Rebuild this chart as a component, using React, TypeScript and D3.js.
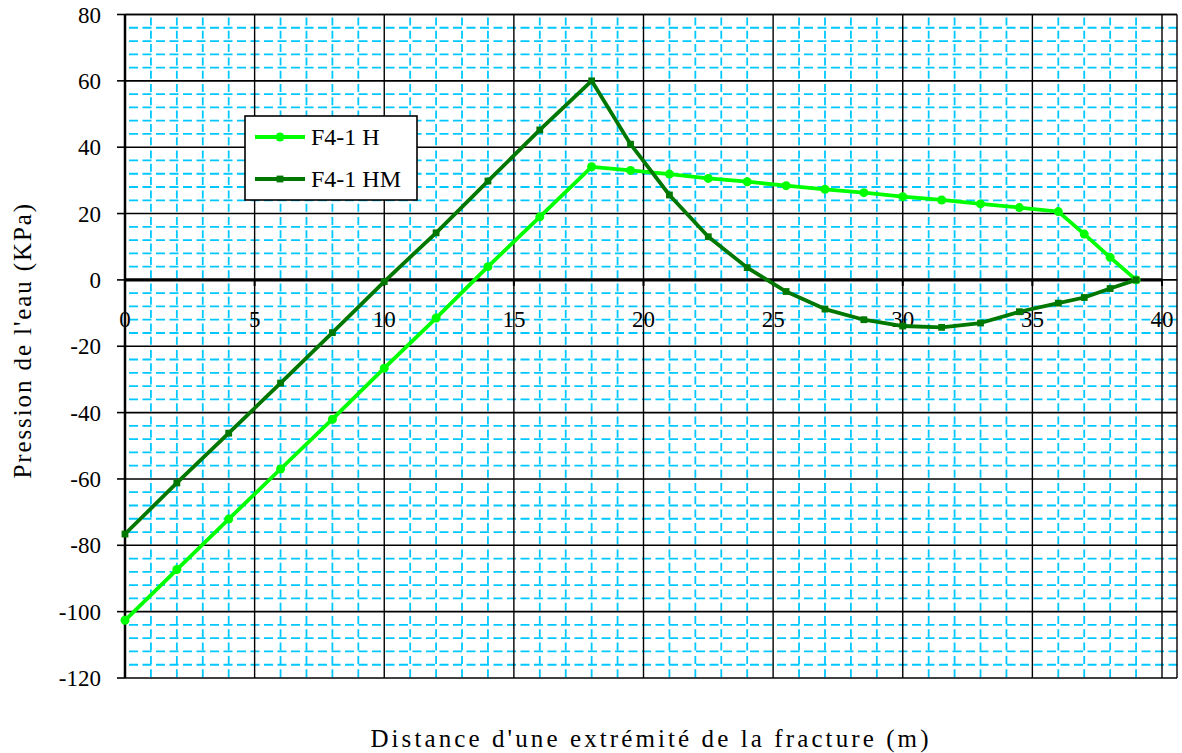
import React from "react";
import * as d3 from "d3";

const xValues = [0, 2, 4, 6, 8, 10, 12, 14, 16, 18, 19.5, 21, 22.5, 24, 25.5, 27, 28.5, 30, 31.5, 33, 34.5, 36, 37, 38, 39];
const seriesH = [-102.6, -87.3, -72.1, -57, -42, -26.6, -11.5, 4, 19, 34.1, 33, 31.9, 30.6, 29.6, 28.4, 27.3, 26.3, 25.1, 24.1, 22.9, 21.8, 20.6, 13.8, 6.8, 0];
const seriesHM = [-76.6, -61.2, -46.2, -31.1, -15.9, -0.5, 14.2, 29.8, 45.2, 60, 40.9, 25.6, 13, 3.7, -3.5, -8.8, -12, -13.9, -14.3, -13, -9.6, -7, -5.3, -2.6, 0];
const xTicks = [0, 5, 10, 15, 20, 25, 30, 35, 40];
const yTicks = [80, 60, 40, 20, 0, -20, -40, -60, -80, -100, -120];
const seriesNames = ["F4-1 H", "F4-1 HM"];
const seriesColors = ["#00ff00", "#007800"];

const W = 1182;
const H = 753;
const plotLeft = 125;
const plotRight = 1177;
const plotTop = 14.5;
const plotBottom = 678;
const FONT = '"Liberation Serif", "Times New Roman", "DejaVu Serif", serif';
const tStyle = { fontFamily: FONT };

export default function App() {
  const x = d3.scaleLinear().domain([0, 40]).range([plotLeft, 1162]);
  const y = d3.scaleLinear().domain([-120, 80]).range([plotBottom, plotTop]);

  const minorX = d3.range(0, 41, 1).filter((v) => v % 5 !== 0);
  const minorY = d3.range(-120, 81, 4).filter((v) => v % 20 !== 0);

  const line = d3
    .line<number>()
    .x((_, i) => x(xValues[i]))
    .y((d) => y(d));

  const data = [seriesH, seriesHM];

  return (
    <svg
      width={W}
      height={H}
      style={{ position: "absolute", left: 0, top: 0, background: "#fff" }}
    >
      <rect x={plotLeft} y={plotTop} width={plotRight - plotLeft} height={plotBottom - plotTop} fill="#fff" />
      {/* minor grid */}
      {minorY.map((v) => (
        <line key={"my" + v} x1={plotLeft} x2={plotRight} y1={y(v)} y2={y(v)} stroke="#00c8ff" strokeWidth={1.8} strokeDasharray="9,4.5" strokeDashoffset={-4} />
      ))}
      {minorX.map((v) => (
        <line key={"mx" + v} x1={x(v)} x2={x(v)} y1={plotTop} y2={plotBottom} stroke="#00c8ff" strokeWidth={1.8} strokeDasharray="8,5.3" strokeDashoffset={-3} />
      ))}
      {/* major grid */}
      {yTicks.map((v) => (
        <line key={"gy" + v} x1={plotLeft} x2={plotRight} y1={y(v)} y2={y(v)} stroke="#000" strokeWidth={1.6} />
      ))}
      {xTicks.filter((v) => v !== 0).map((v) => (
        <line key={"gx" + v} x1={x(v)} x2={x(v)} y1={plotTop} y2={plotBottom} stroke="#000" strokeWidth={1.4} />
      ))}
      <line x1={plotRight} x2={plotRight} y1={plotTop} y2={plotBottom} stroke="#000" strokeWidth={1.4} />
      {/* y axis */}
      <line x1={plotLeft} x2={plotLeft} y1={plotTop} y2={plotBottom} stroke="#000" strokeWidth={2.5} />
      {yTicks.map((v) => (
        <g key={"yt" + v}>
          <line x1={plotLeft - 8} x2={plotLeft} y1={y(v)} y2={y(v)} stroke="#000" strokeWidth={1.6} />
          <text x={101} y={y(v)} dy="0.35em" textAnchor="end" fontSize={23} fill="#000" style={tStyle}>
            {v}
          </text>
        </g>
      ))}
      {/* x axis at zero */}
      <line x1={plotLeft} x2={x(40)} y1={y(0)} y2={y(0)} stroke="#000" strokeWidth={3.2} />
      {xTicks.map((v) => (
        <g key={"xt" + v}>
          <line x1={x(v)} x2={x(v)} y1={y(0)} y2={y(0) + 6} stroke="#000" strokeWidth={2} />
          <text x={x(v)} y={y(0) + 39} dy="0.35em" textAnchor="middle" fontSize={23} fill="#000" style={tStyle}>
            {v}
          </text>
        </g>
      ))}
      {/* series */}
      {data.map((s, si) => (
        <g key={"s" + si}>
          <path d={line(s) || ""} fill="none" stroke={seriesColors[si]} strokeWidth={3.8} strokeLinejoin="round" />
          {s.map((v, i) =>
            si === 0 ? (
              <circle key={i} cx={x(xValues[i])} cy={y(v)} r={4.5} fill={seriesColors[si]} />
            ) : (
              <rect key={i} x={x(xValues[i]) - 3.4} y={y(v) - 3.4} width={6.8} height={6.8} fill={seriesColors[si]} />
            )
          )}
        </g>
      ))}
      {/* top border */}
      <line x1={plotLeft} x2={plotRight} y1={plotTop} y2={plotTop} stroke="#000" strokeWidth={1.6} />
      {/* legend */}
      <rect x={245} y={116} width={172} height={84} fill="#fff" stroke="#000" strokeWidth={1.6} />
      {seriesNames.map((n, i) => {
        const ly = 137 + i * 42;
        return (
          <g key={"lg" + i}>
            <line x1={255} x2={305} y1={ly} y2={ly} stroke={seriesColors[i]} strokeWidth={3.8} />
            {i === 0 ? (
              <circle cx={280} cy={ly} r={4.5} fill={seriesColors[i]} />
            ) : (
              <rect x={276.6} y={ly - 3.4} width={6.8} height={6.8} fill={seriesColors[i]} />
            )}
            <text x={311} y={ly} dy="0.35em" fontSize={24} fill="#000" style={tStyle}>
              {n}
            </text>
          </g>
        );
      })}
      {/* axis titles */}
      <text x={651} y={738} dy="0.35em" textAnchor="middle" fontSize={25} fill="#000" style={{ ...tStyle, letterSpacing: "3.1px" }}>
        Distance d'une extrémité de la fracture (m)
      </text>
      <text transform={`translate(22,${(plotTop + plotBottom) / 2 - 6}) rotate(-90)`} dy="0.35em" textAnchor="middle" fontSize={25} fill="#000" style={{ ...tStyle, letterSpacing: "1.9px" }}>
        Pression de l'eau (KPa)
      </text>
    </svg>
  );
}
